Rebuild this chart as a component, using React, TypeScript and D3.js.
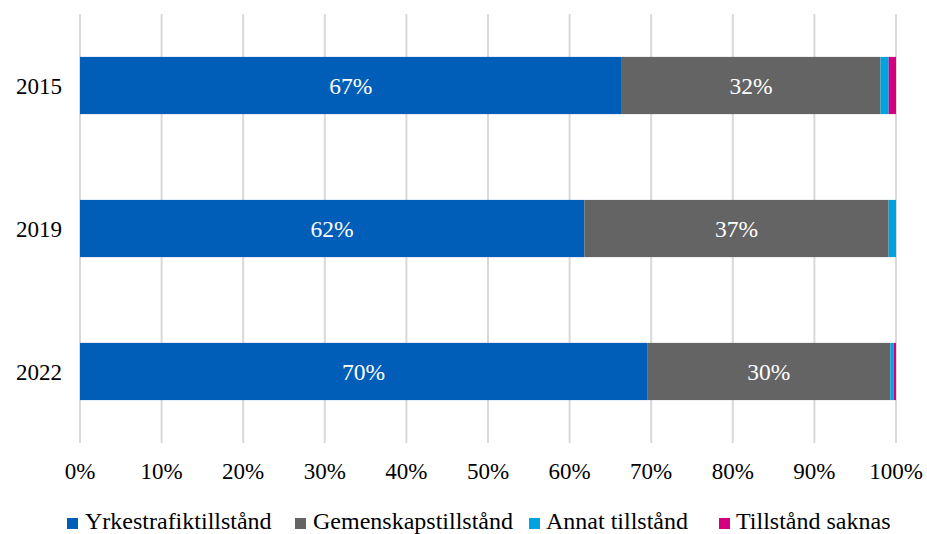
import React from "react";
import * as d3 from "d3";

const years = ["2015", "2019", "2022"];
const seriesNames = ["Yrkestrafiktillstånd", "Gemenskapstillstånd", "Annat tillstånd", "Tillstånd saknas"];
const yrkestrafik = [66.4, 61.8, 69.5];
const gemenskap = [31.7, 37.3, 29.8];
const annat = [1.0, 0.9, 0.4];
const saknas = [0.9, 0.0, 0.3];
const labelsYrkes = ["67%", "62%", "70%"];
const labelsGemenskap = ["32%", "37%", "30%"];
const ticks = [0, 10, 20, 30, 40, 50, 60, 70, 80, 90, 100];
const colors = ["#005EB8", "#646464", "#00A3E0", "#D5007F"];

const W = 927;
const H = 534;
const font = "'Liberation Serif', 'Times New Roman', serif";

export default function App() {
  const x = d3.scaleLinear().domain([0, 100]).range([80, 896]);
  const y = d3.scaleBand().domain(years).range([14, 443]).paddingInner(0.6).paddingOuter(0.3);
  const series = [yrkestrafik, gemenskap, annat, saknas];
  const labels = [labelsYrkes, labelsGemenskap, null, null];

  const rows = years.map((yr, i) => {
    let acc = 0;
    return series.map((s, k) => {
      const x0 = acc;
      acc += s[i];
      return { yr, k, x0, x1: acc, label: labels[k] ? labels[k]![i] : null };
    });
  });

  const legendItems = [
    { sq: 67, tx: 85 },
    { sq: 295, tx: 313 },
    { sq: 529, tx: 546 },
    { sq: 719, tx: 736 },
  ];

  return (
    <svg width={W} height={H} style={{ position: "absolute", left: 0, top: 0, background: "#fff" }} fontFamily={font}>
      {ticks.map((t) => (
        <line key={t} x1={x(t)} x2={x(t)} y1={14} y2={443} stroke="#d9d9d9" strokeWidth={2} />
      ))}
      {rows.map((segs) =>
        segs.map((d) =>
          d.x1 - d.x0 > 0 ? (
            <g key={d.yr + d.k}>
              <rect
                x={x(d.x0)}
                y={y(d.yr)!}
                width={x(d.x1) - x(d.x0)}
                height={y.bandwidth()}
                fill={colors[d.k]}
              />
              {d.label && (
                <text
                  x={(x(d.x0) + x(d.x1)) / 2}
                  y={y(d.yr)! + y.bandwidth() / 2}
                  dy="0.35em"
                  textAnchor="middle"
                  fill="#fff"
                  fontSize={23.5}
                >
                  {d.label}
                </text>
              )}
            </g>
          ) : null
        )
      )}
      {years.map((yr) => (
        <text key={yr} x={62} y={y(yr)! + y.bandwidth() / 2} dy="0.35em" textAnchor="end" fontSize={23} fill="#000">
          {yr}
        </text>
      ))}
      {ticks.map((t) => (
        <text key={t} x={x(t)} y={479} textAnchor="middle" fontSize={23} fill="#000">
          {t + "%"}
        </text>
      ))}
      {seriesNames.map((n, i) => (
        <g key={n}>
          <rect x={legendItems[i].sq} y={518} width={11} height={11} fill={colors[i]} />
          <text x={legendItems[i].tx} y={529} fontSize={24} fill="#000">
            {n}
          </text>
        </g>
      ))}
    </svg>
  );
}
